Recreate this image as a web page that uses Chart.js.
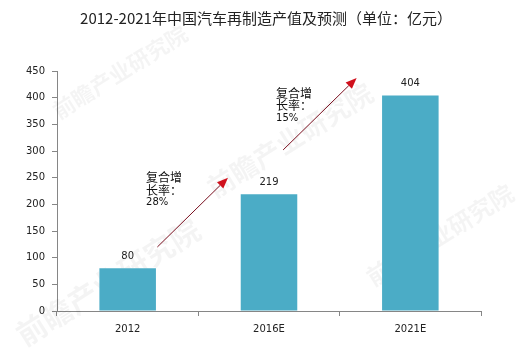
<!DOCTYPE html>
<html>
<head>
<meta charset="utf-8">
<script src="https://cdn.jsdelivr.net/npm/chart.js@4.4.1/dist/chart.umd.min.js"></script>
<style>
  html, body { margin: 0; padding: 0; background: #fff; }
  #wrap { width: 522px; height: 354px; position: relative; }
</style>
</head>
<body>
<div id="wrap"><canvas id="chart"></canvas></div>
<script>
// data
const chartTitle = "2012-2021年中国汽车再制造产值及预测（单位：亿元）";
const years = ["2012", "2016E", "2021E"];
const outputValue = [80, 219, 404];
const yMax = 450;
const yStep = 50;
const growthLabel = ["复合增", "长率："];
const growthRates = ["28%", "15%"];
const watermark = "前瞻产业研究院";

const CJK = '"Noto Sans CJK SC", sans-serif';
const LATIN = '"DejaVu Sans", Verdana, sans-serif';

// title drawn in the top padding
const titlePlugin = {
  id: "titleText",
  afterDraw(chart) {
    const ctx = chart.ctx;
    ctx.save();
    ctx.font = "15px " + CJK;
    ctx.fillStyle = "#222";
    ctx.textAlign = "center";
    ctx.textBaseline = "middle";
    ctx.fillText(chartTitle, 266, 18);
    ctx.restore();
  }
};

// faint diagonal watermark behind the bars
const marks = [
  { x: 108, y: 282, size: 30 },
  { x: 290, y: 140, size: 27 },
  { x: 440, y: 235, size: 24 },
  { x: 120, y: 72, size: 22 }
];
const watermarkPlugin = {
  id: "watermark",
  beforeDatasetsDraw(chart) {
    const ctx = chart.ctx;
    ctx.save();
    ctx.fillStyle = "rgba(0,0,0,0.045)";
    ctx.textAlign = "center";
    ctx.textBaseline = "middle";
    marks.forEach(m => {
      ctx.save();
      ctx.translate(m.x, m.y);
      ctx.rotate(-32 * Math.PI / 180);
      ctx.font = "bold " + m.size + "px " + CJK;
      ctx.fillText(watermark, 0, 0);
      ctx.restore();
    });
    ctx.restore();
  }
};

// value above each bar
const barLabels = {
  id: "barLabels",
  afterDatasetsDraw(chart) {
    const ctx = chart.ctx;
    const meta = chart.getDatasetMeta(0);
    ctx.save();
    ctx.font = "10px " + LATIN;
    ctx.fillStyle = "#222";
    ctx.textAlign = "center";
    ctx.textBaseline = "middle";
    meta.data.forEach((bar, i) => {
      ctx.fillText(String(outputValue[i]), bar.x, bar.y - 12);
    });
    ctx.restore();
  }
};

// growth arrows, placed in scale units (category index, value)
const arrows = [
  { from: [0.21, 120], to: [0.71, 250], text: [0.13, 250] },
  { from: [1.10, 302], to: [1.62, 437], text: [1.05, 408] }
];

const growthArrows = {
  id: "growthArrows",
  afterDatasetsDraw(chart) {
    const ctx = chart.ctx;
    const xs = chart.scales.x, ys = chart.scales.y;
    ctx.save();
    arrows.forEach((a, i) => {
      const x1 = xs.getPixelForValue(a.from[0]), y1 = ys.getPixelForValue(a.from[1]);
      const x2 = xs.getPixelForValue(a.to[0]), y2 = ys.getPixelForValue(a.to[1]);
      const ang = Math.atan2(y2 - y1, x2 - x1);
      const head = 11, half = 4.5;
      const bx = x2 - head * Math.cos(ang), by = y2 - head * Math.sin(ang);
      ctx.strokeStyle = "#7a1020";
      ctx.lineWidth = 1;
      ctx.beginPath();
      ctx.moveTo(x1, y1);
      ctx.lineTo(bx, by);
      ctx.stroke();
      ctx.fillStyle = "#d0101c";
      ctx.beginPath();
      ctx.moveTo(x2, y2);
      ctx.lineTo(bx - half * Math.sin(ang), by + half * Math.cos(ang));
      ctx.lineTo(bx + half * Math.sin(ang), by - half * Math.cos(ang));
      ctx.closePath();
      ctx.fill();

      const tx = xs.getPixelForValue(a.text[0]), ty = ys.getPixelForValue(a.text[1]);
      ctx.fillStyle = "#111";
      ctx.textAlign = "left";
      ctx.textBaseline = "middle";
      ctx.font = "12px " + CJK;
      ctx.fillText(growthLabel[0], tx, ty);
      ctx.fillText(growthLabel[1], tx, ty + 12.5);
      ctx.font = "10px " + LATIN;
      ctx.fillText(growthRates[i], tx, ty + 25);
    });
    ctx.restore();
  }
};

new Chart(document.getElementById("chart"), {
  type: "bar",
  data: {
    labels: years,
    datasets: [{
      data: outputValue,
      backgroundColor: "#4bacc6",
      barPercentage: 0.5,
      categoryPercentage: 0.8
    }]
  },
  options: {
    responsive: true,
    maintainAspectRatio: false,
    animation: false,
    layout: { padding: { top: 71, right: 41, bottom: 6, left: 0 } },
    plugins: {
      legend: { display: false },
      title: { display: false },
      tooltip: { enabled: false }
    },
    scales: {
      x: {
        grid: {
          offset: true,
          drawOnChartArea: false,
          drawTicks: true,
          tickLength: 5,
          color: "#868686"
        },
        border: { color: "#868686" },
        ticks: { color: "#222", font: { family: LATIN, size: 10 }, padding: 7 },
        afterFit(s) { s.height = 37; }
      },
      y: {
        min: 0,
        max: yMax,
        grid: {
          drawOnChartArea: false,
          drawTicks: true,
          tickLength: 5,
          color: "#868686"
        },
        border: { color: "#868686" },
        ticks: { stepSize: yStep, color: "#222", font: { family: LATIN, size: 10 }, padding: 7 },
        afterFit(s) { s.width = 57; }
      }
    }
  },
  plugins: [watermarkPlugin, titlePlugin, barLabels, growthArrows]
});
</script>
</body>
</html>
